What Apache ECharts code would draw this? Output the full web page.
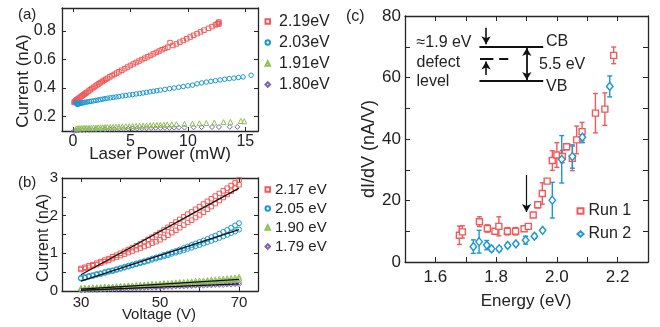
<!DOCTYPE html>
<html><head><meta charset="utf-8">
<script src="https://cdn.jsdelivr.net/npm/echarts@6/dist/echarts.min.js"></script>
<style>html,body{margin:0;padding:0;background:#fff}#c{width:660px;height:327px}</style>
</head><body><div id="c"></div>
<script>
// ---------- Panel (a): current vs laser power ----------
const powerRed = [0.1,0.15,0.2,0.25,0.3,0.35,0.4,0.5,0.6,0.7,0.8,0.9,1.0,1.1,1.2,1.35,1.5,1.65,1.8,1.95,2.1,2.25,2.4,2.55,2.7,2.85,3.0,3.2,3.4,3.6,3.8,4.0,4.25,4.5,4.75,5.0,5.25,5.5,5.75,6.0,6.25,6.5,6.75,7.0,7.25,7.5,7.75,8.0,8.25,8.45,8.7,9.0,9.3,9.6,9.9,10.2,10.5,10.8,11.1,11.4,11.8,12.1,12.4,12.55,12.65,12.7,12.7];
const currentRed = [0.300,0.304,0.308,0.312,0.316,0.319,0.322,0.328,0.334,0.340,0.346,0.352,0.358,0.364,0.370,0.379,0.388,0.397,0.405,0.414,0.422,0.430,0.438,0.446,0.454,0.461,0.468,0.478,0.487,0.496,0.505,0.514,0.525,0.536,0.547,0.558,0.569,0.579,0.589,0.599,0.609,0.619,0.629,0.639,0.649,0.659,0.668,0.677,0.686,0.718,0.698,0.709,0.721,0.733,0.745,0.757,0.769,0.781,0.793,0.805,0.818,0.830,0.842,0.848,0.855,0.862,0.848];
const powerBlue = [0.25,0.3,0.35,0.4,0.45,0.5,0.6,0.7,0.8,0.9,1.0,1.15,1.3,1.45,1.6,1.8,2.0,2.2,2.4,2.6,2.8,3.0,3.25,3.5,3.75,4.0,4.3,4.6,4.9,5.2,5.5,5.8,6.1,6.4,6.7,7.0,7.3,7.6,8.0,8.4,8.8,9.2,9.6,10.0,10.4,10.8,11.2,11.6,12.0,12.4,12.8,13.2,13.6,14.0,14.4,14.8,15.5];
const currentBlue = [0.300,0.292,0.288,0.287,0.288,0.290,0.292,0.294,0.296,0.298,0.300,0.302,0.304,0.306,0.308,0.311,0.314,0.317,0.320,0.323,0.326,0.329,0.332,0.335,0.338,0.341,0.345,0.348,0.352,0.355,0.359,0.362,0.366,0.370,0.374,0.378,0.382,0.386,0.391,0.396,0.401,0.406,0.411,0.416,0.421,0.430,0.436,0.442,0.447,0.452,0.457,0.462,0.466,0.470,0.474,0.478,0.490];
const powerGreen = [0.3,0.45,0.6,0.75,0.9,1.05,1.2,1.4,1.6,1.8,2.0,2.2,2.4,2.6,2.8,3.0,3.25,3.5,3.75,4.0,4.3,4.6,4.9,5.2,5.5,5.8,6.1,6.4,6.7,7.0,7.3,7.6,7.9,8.2,8.6,9.0,9.7,10.4,11.0,11.6,12.3,13.1,13.7,14.6,14.9];
const currentGreen = [0.118,0.119,0.120,0.120,0.121,0.121,0.122,0.122,0.123,0.124,0.124,0.125,0.126,0.126,0.127,0.128,0.129,0.129,0.130,0.131,0.132,0.133,0.134,0.135,0.136,0.137,0.138,0.139,0.140,0.141,0.142,0.143,0.144,0.145,0.146,0.148,0.150,0.152,0.154,0.156,0.159,0.162,0.164,0.170,0.168];
const powerPurple = [0.1,0.3,0.5,0.8,1.1,1.4,1.7,2.0,2.4,2.8,3.2,3.6,4.0,4.4,4.8,5.2,5.6,6.0,6.4,6.8,7.2,7.6,8.0,8.4,8.8,9.2,9.7,10.5,11.2,12.1,12.7,13.65,14.3];
const currentPurple = [0.100,0.103,0.105,0.106,0.107,0.108,0.109,0.110,0.111,0.112,0.113,0.114,0.115,0.116,0.117,0.117,0.118,0.119,0.119,0.120,0.121,0.121,0.122,0.122,0.123,0.124,0.124,0.126,0.127,0.128,0.128,0.129,0.129];
const legendA = ['2.19eV','2.03eV','1.91eV','1.80eV'];
const ticksAx = [0,5,10,15];
const ticksAy = [0.2,0.4,0.6,0.8];

// ---------- Panel (b): current vs voltage (two sweeps each) ----------
const voltages = [30,31,32,33,34,35,36,37,38,39,40,41,42,43,44,45,46,47,48,49,50,51,52,53,54,55,56,57,58,59,60,61,62,63,64,65,66,67,68,69,70];
const redUp = [0.60,0.63,0.67,0.70,0.74,0.78,0.82,0.86,0.91,0.95,1.00,1.05,1.10,1.15,1.20,1.25,1.31,1.37,1.43,1.49,1.55,1.62,1.69,1.76,1.83,1.90,1.97,2.04,2.10,2.17,2.24,2.31,2.38,2.45,2.52,2.59,2.66,2.73,2.80,2.87,2.95];
const redLo = [0.57,0.60,0.63,0.67,0.70,0.74,0.78,0.82,0.86,0.90,0.94,0.98,1.02,1.06,1.10,1.14,1.18,1.22,1.27,1.31,1.36,1.42,1.48,1.55,1.61,1.68,1.75,1.82,1.88,1.95,2.02,2.09,2.17,2.24,2.32,2.40,2.48,2.56,2.65,2.73,2.82];
const blueUp = [0.35,0.37,0.40,0.42,0.45,0.47,0.50,0.53,0.55,0.58,0.61,0.64,0.67,0.70,0.73,0.76,0.79,0.82,0.86,0.89,0.92,0.96,0.99,1.03,1.06,1.10,1.14,1.18,1.22,1.26,1.30,1.34,1.38,1.43,1.47,1.52,1.57,1.62,1.68,1.74,1.80];
const blueLo = [0.33,0.35,0.38,0.40,0.43,0.45,0.48,0.51,0.53,0.56,0.59,0.62,0.65,0.68,0.71,0.74,0.77,0.80,0.83,0.86,0.89,0.92,0.95,0.99,1.02,1.05,1.08,1.12,1.15,1.19,1.22,1.26,1.30,1.33,1.37,1.41,1.45,1.49,1.54,1.58,1.63];
const greenUp = [0.08,0.09,0.09,0.10,0.10,0.11,0.11,0.12,0.12,0.13,0.14,0.14,0.15,0.15,0.16,0.17,0.17,0.18,0.19,0.19,0.20,0.21,0.21,0.22,0.23,0.24,0.24,0.25,0.26,0.27,0.28,0.28,0.29,0.30,0.31,0.32,0.33,0.34,0.35,0.36,0.38];
const greenLo = [0.07,0.07,0.08,0.08,0.09,0.09,0.10,0.10,0.11,0.11,0.12,0.12,0.13,0.13,0.14,0.14,0.15,0.15,0.16,0.16,0.17,0.18,0.18,0.19,0.19,0.20,0.21,0.21,0.22,0.23,0.23,0.24,0.25,0.26,0.26,0.27,0.28,0.29,0.30,0.31,0.33];
const purpleUp = [0.03,0.03,0.04,0.04,0.05,0.05,0.06,0.06,0.06,0.07,0.07,0.08,0.08,0.09,0.09,0.10,0.10,0.11,0.11,0.12,0.12,0.12,0.13,0.13,0.14,0.14,0.15,0.15,0.16,0.16,0.17,0.17,0.18,0.18,0.19,0.19,0.20,0.20,0.21,0.21,0.22];
const purpleLo = [0.02,0.02,0.03,0.03,0.03,0.04,0.04,0.05,0.05,0.05,0.06,0.06,0.07,0.07,0.07,0.08,0.08,0.09,0.09,0.09,0.10,0.10,0.11,0.11,0.12,0.12,0.12,0.13,0.13,0.14,0.14,0.14,0.15,0.15,0.16,0.16,0.16,0.17,0.17,0.18,0.18];
const fitVolt = [30,70];
const fitRed = [0.43,2.73];
const fitBlue = [0.26,1.63];
const fitGreen = [0.05,0.31];
const fitPurple = [0.02,0.19];
const legendB = ['2.17 eV','2.05 eV','1.90 eV','1.79 eV'];
const ticksBx = [30,40,50,60,70];
const labelsBx = [30,50,70];
const ticksBy = [0,0.5,1,1.5,2,2.5,3];
const labelsBy = [0,1,2,3];

// ---------- Panel (c): dI/dV vs photon energy ----------
const energy1 = [1.679,1.689,1.745,1.771,1.796,1.809,1.837,1.864,1.892,1.906,1.922,1.937,1.952,1.968,1.985,2.000,2.018,2.032,2.051,2.065,2.083,2.127,2.158,2.187];
const didv1 = [8.7,9.8,13.1,10.9,10.0,11.6,10.0,10.0,10.8,11.6,15.3,18.6,22.3,26.3,33.0,34.8,34.3,37.5,33.7,39.7,42.4,48.4,49.7,67.2];
const err1 = [3.0,2.0,1.6,1.2,0.7,3.1,1.2,1.2,0.8,0.8,0.5,1.0,3.5,0.6,3.2,4.0,2.0,1.0,4.0,4.5,3.0,6.4,5.3,2.7];
const energy2 = [1.725,1.744,1.769,1.785,1.810,1.838,1.865,1.897,1.926,1.953,1.985,2.016,2.051,2.084,2.174];
const didv2 = [5.0,6.6,5.5,4.3,4.3,5.4,5.9,7.1,8.4,10.3,20.1,33.4,34.3,40.6,57.1];
const err2 = [2.2,3.7,1.5,0.8,0.7,0.7,0.5,1.3,0.7,0.5,5.8,7.7,3.8,1.8,3.4];
const legendC = ['Run 1','Run 2'];
const ticksCx = [1.5,1.6,1.7,1.8,1.9,2.0,2.1,2.2,2.3];
const labelsCx = [1.6,1.8,2.0,2.2];
const ticksCy = [0,10,20,30,40,50,60,70,80];
const labelsCy = [0,20,40,60,80];

// ---------- build ----------
const RED = '#f05a5a', BLUE = '#1a97d4', GREEN = '#8dc150', PURPLE = '#7c62b6';
const FONT = '"Liberation Sans", Arial, sans-serif';
const INK = '#262626';
const zip = (a, b) => a.map((v, i) => [v, b[i]]);
const zip3 = (a, b, c) => a.map((v, i) => [v, b[i], c[i]]);
const twoSweeps = (up, lo) => zip(voltages, up).concat(zip(voltages, lo));

function mkAxis(o) {
  const lab = {show: !!o.labels, customValues: o.labels || [], margin: o.margin || 4,
    fontSize: o.fs || 16, color: '#222', fontFamily: FONT};
  if (o.fmt) lab.formatter = o.fmt;
  return {
    type: 'value', gridIndex: o.grid, position: o.pos, min: o.min, max: o.max,
    axisLine: {show: true, onZero: false, lineStyle: {color: INK, width: 1.3}},
    axisTick: {show: true, inside: true, length: o.tl || 4, lineStyle: {color: INK, width: 1}, customValues: o.ticks},
    axisLabel: lab,
    splitLine: {show: false}
  };
}

function hollow(name, xi, data, symbol, size, color, bw, fill) {
  return {name, type: 'scatter', xAxisIndex: xi, yAxisIndex: xi, data, symbol, symbolSize: size,
    itemStyle: {color: fill || 'rgba(255,255,255,0)', borderColor: color, borderWidth: bw || 1, opacity: 1},
    silent: true, z: 3};
}

function fitLine(ys) {
  return {type: 'line', xAxisIndex: 2, yAxisIndex: 2, data: zip(fitVolt, ys), symbol: 'none',
    lineStyle: {color: '#111', width: 1.3}, silent: true, z: 5};
}

function errBars(data, color) {
  return {type: 'custom', xAxisIndex: 4, yAxisIndex: 4, data, encode: {x: 0, y: 1}, silent: true, z: 2,
    renderItem: function (params, api) {
      const x = api.value(0), y = api.value(1), e = api.value(2);
      const t = api.coord([x, y + e]), b = api.coord([x, y - e]);
      const w = 2.5, st = {stroke: color, lineWidth: 1.4};
      return {type: 'group', children: [
        {type: 'line', shape: {x1: t[0], y1: t[1], x2: b[0], y2: b[1]}, style: st},
        {type: 'line', shape: {x1: t[0] - w, y1: t[1], x2: t[0] + w, y2: t[1]}, style: st},
        {type: 'line', shape: {x1: b[0] - w, y1: b[1], x2: b[0] + w, y2: b[1]}, style: st}
      ]};
    }};
}

function seg(x1, y1, x2, y2, s1, s2, width) {
  return [{coord: [x1, y1], symbol: s1 || 'none', symbolSize: [7, 8], lineStyle: {width: width || 2, color: '#111', type: 'solid'}},
          {coord: [x2, y2], symbol: s2 || 'none', symbolSize: [7, 8]}];
}

function txt(x, y, s, fs, align) {
  return {type: 'text', x, y, silent: true,
    style: {text: s, fontSize: fs, fontFamily: FONT, fill: '#222', align: align || 'left', verticalAlign: 'middle'}};
}
function vtxt(x, y, s, fs) {
  return {type: 'text', x, y, rotation: Math.PI / 2, silent: true,
    style: {text: s, fontSize: fs, fontFamily: FONT, fill: '#222', align: 'center', verticalAlign: 'middle'}};
}

const option = {
  animation: false,
  backgroundColor: '#fff',
  grid: [
    {left: 62, top: 8, width: 196, height: 123},
    {left: 62, top: 178, width: 196, height: 113},
    {left: 405, top: 16, width: 243, height: 246}
  ],
  xAxis: [
    mkAxis({grid: 0, pos: 'bottom', min: -0.95, max: 16.1, ticks: ticksAx, labels: ticksAx, margin: 3, fs: 16}),
    mkAxis({grid: 0, pos: 'top', min: -0.95, max: 16.1, ticks: ticksAx}),
    mkAxis({grid: 1, pos: 'bottom', min: 25.2, max: 74.8, ticks: ticksBx, labels: labelsBx, margin: 4, fs: 15}),
    mkAxis({grid: 1, pos: 'top', min: 25.2, max: 74.8, ticks: ticksBx}),
    mkAxis({grid: 2, pos: 'bottom', min: 1.5, max: 2.3, ticks: ticksCx, labels: labelsCx, margin: 7, fs: 17, tl: 5, fmt: v => Number(v).toFixed(1)}),
    mkAxis({grid: 2, pos: 'top', min: 1.5, max: 2.3, ticks: ticksCx, tl: 5})
  ],
  yAxis: [
    mkAxis({grid: 0, pos: 'left', min: 0.1, max: 0.96, ticks: ticksAy, labels: ticksAy, margin: 6, fs: 16}),
    mkAxis({grid: 0, pos: 'right', min: 0.1, max: 0.96, ticks: ticksAy}),
    mkAxis({grid: 1, pos: 'left', min: 0, max: 3, ticks: ticksBy, labels: labelsBy, margin: 4, fs: 15}),
    mkAxis({grid: 1, pos: 'right', min: 0, max: 3, ticks: ticksBy}),
    mkAxis({grid: 2, pos: 'left', min: 0, max: 80, ticks: ticksCy, labels: labelsCy, margin: 4, fs: 17, tl: 5}),
    mkAxis({grid: 2, pos: 'right', min: 0, max: 80, ticks: ticksCy, tl: 5})
  ],
  legend: [
    {data: legendA, orient: 'vertical', left: 264.5, top: 13.5, itemWidth: 4.5, itemHeight: 4.5, itemGap: 5, padding: 0,
      selectedMode: false, textStyle: {fontSize: 16, color: '#222', fontFamily: FONT, padding: [0, 0, 0, 4]}},
    {data: legendB, orient: 'vertical', left: 264.5, top: 182, itemWidth: 4.5, itemHeight: 4.5, itemGap: 4, padding: 0,
      selectedMode: false, textStyle: {fontSize: 15, color: '#222', fontFamily: FONT}},
    {data: legendC, orient: 'vertical', left: 576.5, top: 203, itemWidth: 6, itemHeight: 5.5, itemGap: 7, padding: 0,
      selectedMode: false, textStyle: {fontSize: 16, color: '#222', fontFamily: FONT}}
  ],
  series: [
    // (a)
    hollow(legendA[3], 0, zip(powerPurple, currentPurple), 'diamond', 5, PURPLE),
    hollow(legendA[2], 0, zip(powerGreen, currentGreen), 'triangle', 5, GREEN),
    hollow(legendA[0], 0, zip(powerRed, currentRed), 'rect', 4.5, RED),
    hollow(legendA[1], 0, zip(powerBlue, currentBlue), 'circle', 4.5, BLUE),
    // (b)
    hollow(legendB[3], 2, twoSweeps(purpleUp, purpleLo), 'diamond', 5, PURPLE),
    hollow(legendB[2], 2, twoSweeps(greenUp, greenLo), 'triangle', 5, GREEN),
    hollow(legendB[1], 2, twoSweeps(blueUp, blueLo), 'circle', 5, BLUE),
    hollow(legendB[0], 2, twoSweeps(redUp, redLo), 'rect', 4.5, RED),
    fitLine(fitRed), fitLine(fitBlue), fitLine(fitGreen), fitLine(fitPurple),
    // (c)
    errBars(zip3(energy1, didv1, err1), RED),
    errBars(zip3(energy2, didv2, err2), BLUE),
    hollow(legendC[0], 4, zip(energy1, didv1), 'rect', 6, RED, 1.4, '#fff'),
    hollow(legendC[1], 4, zip(energy2, didv2), 'diamond', [6.5, 8], BLUE, 1.4, '#fff'),
    // inset band diagram + threshold arrow (drawn in panel-c data units)
    {type: 'line', xAxisIndex: 4, yAxisIndex: 4, data: [], silent: true, z: 6,
      markLine: {silent: true, animation: false, symbol: ['none', 'none'], label: {show: false},
        emphasis: {disabled: true},
        lineStyle: {color: '#111', width: 2, type: 'solid'},
        data: [
          seg(1.745, 70.0, 1.955, 70.0),
          seg(1.745, 58.8, 1.955, 58.8),
          seg(1.747, 66.2, 1.791, 66.2),
          seg(1.810, 66.2, 1.840, 66.2),
          seg(1.767, 76.2, 1.767, 70.8, 'none', 'arrow', 1.6),
          seg(1.767, 60.8, 1.767, 65.2, 'none', 'arrow', 1.6),
          seg(1.901, 59.2, 1.901, 69.6, 'arrow', 'arrow', 1.8),
          seg(1.900, 28.3, 1.900, 16.3, 'none', 'arrow', 1.2)
        ]}}
  ],
  graphic: [
    txt(18, 15, '(a)', 15),
    txt(18, 183, '(b)', 15),
    txt(346, 17, '(c)', 16),
    vtxt(23.5, 81, 'Current (nA)', 17),
    txt(160, 154, 'Laser Power (mW)', 17, 'center'),
    vtxt(43.5, 238, 'Current (nA)', 16),
    txt(159, 315, 'Voltage (V)', 15, 'center'),
    txt(526, 301.5, 'Energy (eV)', 17, 'center'),
    vtxt(369.5, 149, 'dI/dV (nA/V)', 18),
    txt(416.5, 43, '\u22481.9 eV', 16),
    txt(416.5, 62.5, 'defect', 16),
    txt(416.5, 82, 'level', 16),
    txt(546, 42, 'CB', 16),
    txt(539, 64.5, '5.5 eV', 16),
    txt(546, 86.5, 'VB', 16)
  ]
};

const chart = echarts.init(document.getElementById('c'), null, {renderer: 'canvas'});
chart.setOption(option);
</script>
</body></html>
